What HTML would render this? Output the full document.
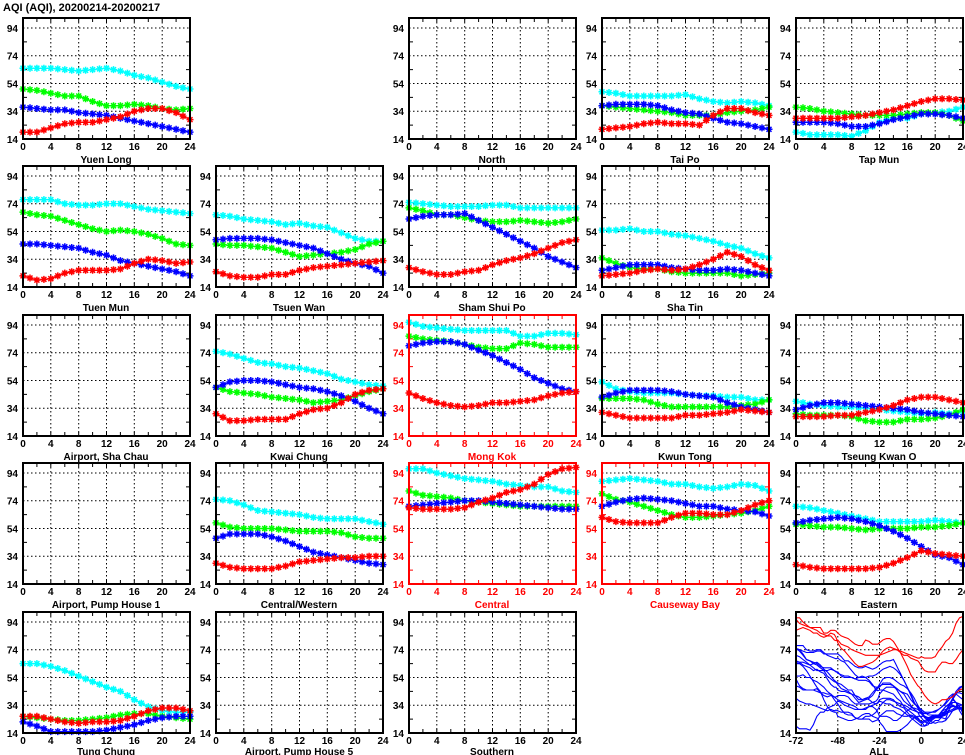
<!DOCTYPE html>
<html><head><meta charset="utf-8"><style>
html,body{margin:0;padding:0;background:#fff;}
svg{display:block;font-family:"Liberation Sans",sans-serif;font-weight:bold;}
</style></head><body>
<svg id="s" width="965" height="755" viewBox="0 0 965 755" xmlns="http://www.w3.org/2000/svg">
<defs>
<g id="yv" font-size="10" text-anchor="end"><text x="-5" y="14">94</text><text x="-5" y="41.7">74</text><text x="-5" y="69.5">54</text><text x="-5" y="97.2">34</text><text x="-5" y="125">14</text></g>
<g id="xv" font-size="10" text-anchor="middle"><text x="0" y="132">0</text><text x="27.8" y="132">4</text><text x="55.7" y="132">8</text><text x="83.5" y="132">12</text><text x="111.3" y="132">16</text><text x="139.2" y="132">20</text><text x="167" y="132">24</text></g>
<g id="xa" font-size="10" text-anchor="middle"><text x="0" y="132">-72</text><text x="41.75" y="132">-48</text><text x="83.5" y="132">-24</text><text x="125.25" y="132">0</text><text x="167" y="132">24</text></g>
<path id="st" d="M-3.5,0H3.5M0,-3.5V3.5M-2.5,-2.5L2.5,2.5M-2.5,2.5L2.5,-2.5"/>
</defs>
<text x="3" y="11" font-size="11">AQI (AQI), 20200214-20200217</text>
<g id="plots"></g>
<g id="labels" font-size="10" text-anchor="middle">
<use href="#yv" x="23" y="18"/><use href="#xv" x="23" y="18"/><text x="106" y="163">Yuen Long</text>
<use href="#yv" x="409" y="18"/><use href="#xv" x="409" y="18"/><text x="492" y="163">North</text>
<use href="#yv" x="602" y="18"/><use href="#xv" x="602" y="18"/><text x="685" y="163">Tai Po</text>
<use href="#yv" x="796" y="18"/><use href="#xv" x="796" y="18"/><text x="879" y="163">Tap Mun</text>

<use href="#yv" x="23" y="166"/><use href="#xv" x="23" y="166"/><text x="106" y="311">Tuen Mun</text>
<use href="#yv" x="216" y="166"/><use href="#xv" x="216" y="166"/><text x="299" y="311">Tsuen Wan</text>
<use href="#yv" x="409" y="166"/><use href="#xv" x="409" y="166"/><text x="492" y="311">Sham Shui Po</text>
<use href="#yv" x="602" y="166"/><use href="#xv" x="602" y="166"/><text x="685" y="311">Sha Tin</text>

<use href="#yv" x="23" y="315"/><use href="#xv" x="23" y="315"/><text x="106" y="460">Airport, Sha Chau</text>
<use href="#yv" x="216" y="315"/><use href="#xv" x="216" y="315"/><text x="299" y="460">Kwai Chung</text>
<g fill="#f00"><use href="#yv" x="409" y="315"/><use href="#xv" x="409" y="315"/><text x="492" y="460">Mong Kok</text></g>
<use href="#yv" x="602" y="315"/><use href="#xv" x="602" y="315"/><text x="685" y="460">Kwun Tong</text>
<use href="#yv" x="796" y="315"/><use href="#xv" x="796" y="315"/><text x="879" y="460">Tseung Kwan O</text>

<use href="#yv" x="23" y="463"/><use href="#xv" x="23" y="463"/><text x="106" y="608">Airport, Pump House 1</text>
<use href="#yv" x="216" y="463"/><use href="#xv" x="216" y="463"/><text x="299" y="608">Central/Western</text>
<g fill="#f00"><use href="#yv" x="409" y="463"/><use href="#xv" x="409" y="463"/><text x="492" y="608">Central</text></g>
<g fill="#f00"><use href="#yv" x="602" y="463"/><use href="#xv" x="602" y="463"/><text x="685" y="608">Causeway Bay</text></g>
<use href="#yv" x="796" y="463"/><use href="#xv" x="796" y="463"/><text x="879" y="608">Eastern</text>

<use href="#yv" x="23" y="612"/><use href="#xv" x="23" y="612"/><text x="106" y="755">Tung Chung</text>
<use href="#yv" x="216" y="612"/><use href="#xv" x="216" y="612"/><text x="299" y="755">Airport, Pump House 5</text>
<use href="#yv" x="409" y="612"/><use href="#xv" x="409" y="612"/><text x="492" y="755">Southern</text>
<use href="#yv" x="796" y="612"/><use href="#xa" x="796" y="612"/><text x="879" y="755">ALL</text>
</g>
</svg>
<script>
(function(){
var NS="http://www.w3.org/2000/svg",G=document.getElementById("plots");
var W=167,H=121,TOP=101.2,PX=H/(TOP-14);
var cols=[23,216,409,602,796],rows=[18,166,315,463,612];
var C=["#00ffff","#00ff00","#0000ff","#ff0000"];
function el(t,a,p){var e=document.createElementNS(NS,t);for(var k in a)e.setAttribute(k,a[k]);(p||G).appendChild(e);return e;}
function ex(a){var r=[];for(var i=0;i<12;i++){r.push(a[i]);r.push((a[i]+a[i+1])/2);}r.push(a[12]);return r;}
var P=[
[0,0,0,[[65,65,65,64,63,64,65,63,60,58,55,52,50],[50,49,47,45,45,41,38,38,39,38,36,35,36],[37,36,35,35,33,32,31,29,27,25,23,21,19],[19,19,22,25,26,26,28,30,34,36,36,33,28]]],
[2,0,0,null],
[3,0,0,[[48,47,45,45,45,45,46,43,41,40,41,40,38],[38,37,36,35,34,33,31,31,31,33,34,35,37],[38,39,39,39,38,35,33,32,29,26,25,23,21],[21,22,23,25,26,25,25,24,31,36,36,33,31]]],
[4,0,0,[[19,17,17,17,16,20,26,29,29,32,33,34,37],[37,36,34,33,32,31,31,31,32,33,33,31,27],[26,26,26,25,23,23,25,28,30,32,32,31,29],[29,29,29,29,30,31,33,35,38,41,43,43,42]]],
[0,1,0,[[77,77,77,74,73,73,74,74,72,70,69,68,67],[68,66,65,62,59,56,54,55,54,52,49,45,44],[45,45,44,43,42,39,37,33,31,29,27,25,22],[22,19,20,24,26,26,26,27,31,34,33,31,32]]],
[1,1,0,[[66,65,63,62,61,59,60,58,57,53,49,47,47],[45,44,44,43,42,39,36,37,38,39,41,45,47],[48,49,49,49,48,46,44,42,38,34,31,29,24],[25,22,21,21,23,23,26,28,29,30,31,32,33]]],
[2,1,0,[[75,74,73,72,72,72,73,73,71,71,71,71,71],[71,69,66,66,64,62,61,61,62,61,60,61,63],[63,65,66,66,67,62,57,52,47,42,36,32,28],[28,25,23,23,25,26,30,33,35,38,42,46,48]]],
[3,1,0,[[55,55,56,54,54,52,51,49,47,44,42,38,35],[35,31,28,27,27,25,24,24,24,24,22,23,24],[26,28,30,30,30,28,27,26,26,27,26,24,22],[22,23,24,26,27,26,27,30,34,39,36,30,26]]],
[0,2,0,null],
[1,2,0,[[75,73,70,67,66,64,63,61,59,55,53,51,50],[49,46,45,44,42,41,40,38,39,40,43,46,48],[49,53,54,54,53,51,49,48,46,43,39,34,30],[30,25,25,26,26,26,30,33,34,38,44,47,48]]],
[2,2,1,[[96,93,92,91,90,90,90,90,86,86,88,88,87],[86,84,83,82,80,78,77,77,81,80,78,78,78],[79,81,82,82,80,76,72,67,62,56,52,48,46],[45,41,38,36,35,36,38,38,39,40,43,45,46]]],
[3,2,0,[[53,48,46,45,45,45,44,43,43,42,42,40,40],[41,41,41,40,37,35,35,35,35,35,36,37,40],[42,45,47,47,47,46,44,43,42,38,35,33,31],[31,29,27,27,27,27,29,29,30,31,33,32,31]]],
[4,2,0,[[39,37,36,35,35,34,33,32,31,30,31,30,31],[30,29,29,29,28,25,24,24,26,26,27,29,33],[33,36,38,38,37,36,35,34,33,31,30,29,28],[28,28,28,29,29,31,33,36,40,42,42,40,38]]],
[0,3,0,null],
[1,3,0,[[75,74,71,67,66,65,64,62,61,61,61,59,57],[58,55,54,54,54,53,52,52,52,51,48,47,47],[47,50,50,50,48,45,41,37,35,33,31,29,28],[29,26,25,25,25,27,30,31,32,33,33,34,34]]],
[2,3,1,[[97,97,94,92,90,89,88,86,85,84,84,81,80],[81,78,77,76,74,73,72,71,70,70,70,70,70],[70,71,72,73,74,74,73,72,71,70,69,68,68],[69,68,68,68,69,73,76,80,82,86,93,97,98]]],
[3,3,1,[[88,89,90,89,88,86,86,84,83,84,86,85,81],[79,75,73,70,67,64,62,62,63,64,65,67,70],[70,73,75,76,75,74,72,70,70,68,67,66,63],[62,59,58,58,58,62,65,65,64,64,67,71,74]]],
[4,3,0,[[70,69,67,65,63,61,59,59,59,59,60,59,58],[57,56,55,55,54,53,54,54,54,55,55,56,58],[58,60,61,62,61,59,56,52,47,41,35,33,28],[28,26,25,25,25,25,26,29,33,38,36,35,34]]],
[0,4,0,[[64,64,62,59,55,51,47,44,38,33,30,29,29],[26,25,24,23,23,24,25,27,28,28,26,25,24],[22,19,15,15,15,15,16,18,20,23,25,26,26],[26,26,24,22,21,22,22,23,26,30,32,32,30]]],
[1,4,0,null],[2,4,0,null],[4,4,0,"ALL"]];
function yv(v){return (TOP-v)*PX;}
function frame(x0,y0,red,all){
 var g=el("g",{transform:"translate("+x0+","+y0+")"});
 var gs=[];
 if(all){for(var i=1;i<4;i++)gs.push(i*W/4);} else {for(var i=1;i<6;i++)gs.push(i*W/6);}
 var d="";
 gs.forEach(function(x){d+="M"+x.toFixed(1)+",0V"+H;});
 [34,54,74,94].forEach(function(v){d+="M0,"+yv(v).toFixed(1)+"H"+W;});
 el("path",{d:d,stroke:"#000","stroke-width":"1","stroke-dasharray":"1.5,2.5",fill:"none"},g);
 var t="";
 [24,44,64,84].forEach(function(v){var y=yv(v).toFixed(1);t+="M0,"+y+"h4M"+W+","+y+"h-4";});
 var n=all?8:12;
 for(var i=1;i<n;i++){var x=(i*W/n).toFixed(1);t+="M"+x+",0v4M"+x+","+H+"v-4";}
 el("path",{d:t,stroke:red?"#f00":"#000","stroke-width":"1",fill:"none"},g);
 return g;
}
var allSeries=[];
P.forEach(function(p){
 var x0=cols[p[0]],y0=rows[p[1]];
 if(p[3]==="ALL"){
  var g=frame(x0,y0,0,1);
  allSeries.sort(function(a,b){return a.red-b.red;});
  allSeries.forEach(function(s){
   var pts=[];
   for(var i=0;i<s.v.length;i++){var y=yv(s.v[i]);if(y<0)y=0;if(y>H)y=H;pts.push((i*W/96).toFixed(1)+","+y.toFixed(1));}
   el("polyline",{points:pts.join(" "),fill:"none",stroke:s.red?"#f00":"#00f","stroke-width":"1.1"},g);
  });
  el("rect",{x:0,y:0,width:W,height:H,fill:"none",stroke:"#000","stroke-width":"2"},g);
  return;
 }
 var g=frame(x0,y0,p[2],0);
 if(p[3]){
  var ser=p[3].map(ex);
  ser.forEach(function(s,k){
   var pts=[];
   s.forEach(function(v,i){pts.push((i*W/24).toFixed(1)+","+yv(v).toFixed(1));});
   el("polyline",{points:pts.join(" "),fill:"none",stroke:C[k],"stroke-width":"1.3"},g);
   var mg=el("g",{stroke:C[k],"stroke-width":"1.5",fill:"none"},g);
   s.forEach(function(v,i){el("use",{href:"#st",x:(i*W/24).toFixed(1),y:yv(v).toFixed(1)},mg);});
  });
  var v=[];
  for(var k=0;k<3;k++)for(var i=0;i<24;i++)v.push(ser[k][i]);
  for(var i=0;i<25;i++)v.push(ser[3][i]);
  allSeries.push({v:v,red:p[2]});
 }
 el("rect",{x:0,y:0,width:W,height:H,fill:"none",stroke:p[2]?"#f00":"#000","stroke-width":"2"},g);
});
})();
</script>
</body></html>
